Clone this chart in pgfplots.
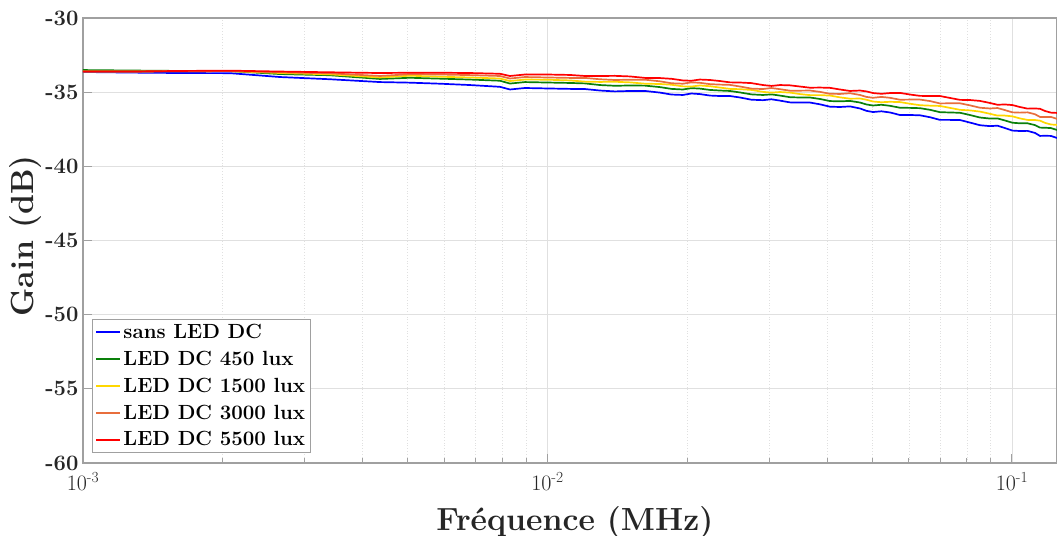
\documentclass[border=0pt]{standalone}
\usepackage{pgfplots}
\pgfplotsset{compat=1.18}
\definecolor{cblue}{RGB}{0,0,255}
\definecolor{cgreen}{RGB}{10,128,10}
\definecolor{cyellow}{RGB}{255,215,0}
\definecolor{corange}{RGB}{232,110,60}
\definecolor{cred}{RGB}{255,0,0}
\definecolor{framegray}{RGB}{160,160,160}
\pgfplotstableread{
f blue green yellow orange red
0.001000 -33.64 -33.51 -33.61 -33.61 -33.61
0.001262 -33.68 -33.54 -33.61 -33.61 -33.61
0.001618 -33.71 -33.57 -33.59 -33.59 -33.57
0.002073 -33.72 -33.58 -33.58 -33.58 -33.55
0.002656 -33.98 -33.78 -33.71 -33.66 -33.61
0.003402 -34.13 -33.86 -33.80 -33.73 -33.66
0.004360 -34.32 -34.11 -34.01 -33.91 -33.71
0.005058 -34.36 -34.03 -33.89 -33.79 -33.69
0.005869 -34.43 -34.09 -33.96 -33.81 -33.69
0.006809 -34.52 -34.15 -34.01 -33.85 -33.71
0.007901 -34.64 -34.23 -34.08 -33.91 -33.76
0.008303 -34.82 -34.42 -34.25 -34.08 -33.91
0.008943 -34.72 -34.32 -34.15 -33.98 -33.81
0.009975 -34.75 -34.35 -34.16 -34.01 -33.81
0.01118 -34.78 -34.38 -34.21 -34.04 -33.84
0.01204 -34.79 -34.41 -34.29 -34.04 -33.91
0.01297 -34.89 -34.52 -34.31 -34.13 -33.91
0.01397 -34.95 -34.57 -34.30 -34.18 -33.90
0.01505 -34.92 -34.55 -34.34 -34.16 -33.94
0.01622 -34.92 -34.56 -34.43 -34.16 -34.04
0.01747 -35.03 -34.66 -34.45 -34.27 -34.05
0.01849 -35.16 -34.78 -34.50 -34.40 -34.10
0.01957 -35.19 -34.82 -34.61 -34.43 -34.21
0.02041 -35.09 -34.73 -34.62 -34.34 -34.23
0.02129 -35.13 -34.76 -34.55 -34.37 -34.15
0.02238 -35.23 -34.85 -34.60 -34.46 -34.18
0.02352 -35.26 -34.89 -34.69 -34.49 -34.25
0.02471 -35.26 -34.92 -34.78 -34.51 -34.34
0.02597 -35.36 -35.02 -34.80 -34.62 -34.35
0.02749 -35.51 -35.15 -34.85 -34.76 -34.39
0.02910 -35.54 -35.19 -34.98 -34.79 -34.52
0.03035 -35.48 -35.15 -35.03 -34.72 -34.58
0.03166 -35.57 -35.23 -34.99 -34.80 -34.52
0.03327 -35.69 -35.34 -35.03 -34.90 -34.54
0.03496 -35.70 -35.36 -35.13 -34.90 -34.62
0.03674 -35.70 -35.36 -35.20 -34.89 -34.70
0.03861 -35.82 -35.46 -35.20 -34.98 -34.69
0.04057 -35.98 -35.60 -35.23 -35.11 -34.71
0.04264 -36.00 -35.62 -35.35 -35.12 -34.82
0.04480 -35.96 -35.59 -35.44 -35.07 -34.92
0.04708 -36.10 -35.70 -35.43 -35.19 -34.89
0.04861 -36.26 -35.83 -35.51 -35.32 -34.95
0.05020 -36.34 -35.90 -35.63 -35.38 -35.06
0.05236 -36.29 -35.85 -35.68 -35.32 -35.11
0.05462 -36.37 -35.92 -35.65 -35.38 -35.06
0.05740 -36.54 -36.05 -35.67 -35.51 -35.05
0.06032 -36.54 -36.06 -35.78 -35.50 -35.16
0.06339 -36.56 -36.08 -35.88 -35.50 -35.25
0.06661 -36.69 -36.19 -35.91 -35.60 -35.26
0.06999 -36.87 -36.35 -35.93 -35.76 -35.26
0.07355 -36.87 -36.37 -36.06 -35.75 -35.39
0.07729 -36.88 -36.39 -36.19 -35.75 -35.52
0.08121 -37.05 -36.54 -36.23 -35.89 -35.53
0.08534 -37.23 -36.71 -36.31 -36.05 -35.59
0.08968 -37.29 -36.78 -36.46 -36.10 -35.73
0.09307 -37.26 -36.77 -36.58 -36.07 -35.85
0.09659 -37.42 -36.91 -36.58 -36.21 -35.83
0.1002 -37.59 -37.06 -36.63 -36.36 -35.87
0.1040 -37.62 -37.10 -36.77 -36.38 -36.00
0.1080 -37.61 -37.10 -36.87 -36.36 -36.11
0.1121 -37.75 -37.22 -36.88 -36.49 -36.10
0.1149 -37.95 -37.39 -36.92 -36.67 -36.12
0.1178 -37.94 -37.40 -37.07 -36.67 -36.27
0.1213 -37.95 -37.42 -37.18 -36.67 -36.38
0.1250 -38.09 -37.55 -37.21 -36.80 -36.40
}\data
\begin{document}
\begin{tikzpicture}
\begin{axis}[
  name=ax,
  at={(0pt,0pt)}, anchor=south west,
  scale only axis,
  width=974pt, height=445pt,
  xmode=log,
  xmin=0.001, xmax=0.125,
  ymin=-60, ymax=-30,
  ytick={-60,-55,-50,-45,-40,-35,-30},
  yticklabels={-60,-55,-50,-45,-40,-35,-30},
  xtick={0.001,0.01,0.1},
  xticklabels={10\textsuperscript{-3},10\textsuperscript{-2},10\textsuperscript{-1}},
  minor xtick={0.002,0.003,0.004,0.005,0.006,0.007,0.008,0.009,0.02,0.03,0.04,0.05,0.06,0.07,0.08,0.09},
  grid=both,
  major grid style={draw=black!12, line width=0.8pt},
  minor grid style={draw=black!12, line width=0.8pt, dotted},
  axis line style={draw=framegray, line width=1.2pt},
  tick style={draw=framegray, line width=1pt},
  major tick length=9pt, minor tick length=5pt,
  tick align=inside,
  xtick pos=bottom, ytick pos=left,
  yticklabel style={font=\fontsize{22}{22}\selectfont\bfseries, text=black!85, xshift=-1pt},
  xticklabel style={font=\fontsize{22}{22}\selectfont, text=black!85, yshift=-6pt},
  xlabel={Fréquence (MHz)},
  ylabel={Gain (dB)},
  label style={font=\fontsize{32}{32}\selectfont\bfseries, text=black!85},
  xlabel style={at={(axis description cs:0.505,-0.1528)}, anchor=base},
  ylabel style={at={(axis description cs:-0.0595,0.51)}, anchor=center},
  legend cell align=left,
  legend style={at={(axis description cs:0.0092,0.0225)}, anchor=south west, draw=framegray, line width=1pt,
    font=\fontsize{20.5}{24}\selectfont\bfseries, row sep=7pt, inner sep=3pt},
  legend image code/.code={\draw[#1, line width=2pt] (0pt,0pt) -- (24pt,0pt);},
  every axis plot/.append style={line width=1.7pt},
]
\addplot[cblue] table[x=f,y=blue] {\data};
\addlegendentry{sans LED DC}
\addplot[cgreen] table[x=f,y=green] {\data};
\addlegendentry{LED DC 450 lux}
\addplot[cyellow] table[x=f,y=yellow] {\data};
\addlegendentry{LED DC 1500 lux}
\addplot[corange] table[x=f,y=orange] {\data};
\addlegendentry{LED DC 3000 lux}
\addplot[cred] table[x=f,y=red] {\data};
\addlegendentry{LED DC 5500 lux}
\end{axis}
\pgfresetboundingbox
\path[use as bounding box] ([xshift=-83pt,yshift=-73pt]ax.south west) rectangle ([yshift=18pt]ax.north east);
\end{tikzpicture}
\end{document}
